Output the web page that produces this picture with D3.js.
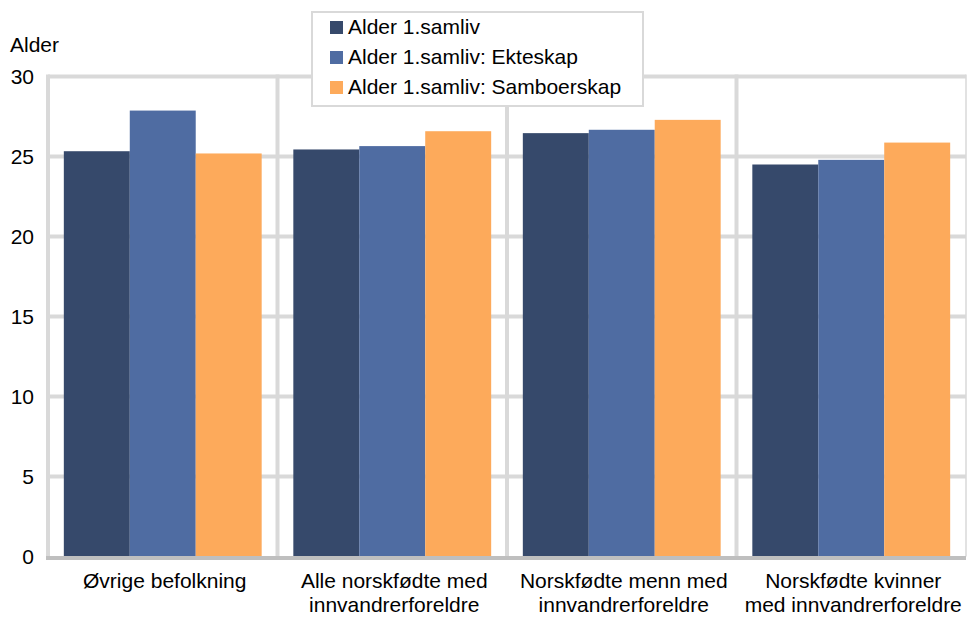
<!DOCTYPE html>
<html>
<head>
<meta charset="utf-8">
<script src="https://cdn.jsdelivr.net/npm/d3@7"></script>
<style>
  body { margin: 0; background: #fff; }
  svg { display: block; }
  text { font-family: "Liberation Sans", Arial, sans-serif; fill: #000; }
</style>
</head>
<body>
<svg id="chart" width="967" height="617"></svg>
<script>
const categories = [
  ["Øvrige befolkning"],
  ["Alle norskfødte med", "innvandrerforeldre"],
  ["Norskfødte menn med", "innvandrerforeldre"],
  ["Norskfødte kvinner", "med innvandrerforeldre"]
];
const seriesNames = ["Alder 1.samliv", "Alder 1.samliv: Ekteskap", "Alder 1.samliv: Samboerskap"];
const alder = [25.33, 25.44, 26.46, 24.5];
const ekteskap = [27.87, 25.65, 26.67, 24.79];
const samboerskap = [25.19, 26.58, 27.29, 25.87];
const yTicks = [0, 5, 10, 15, 20, 25, 30];
const colors = ["#36496b", "#4f6ca2", "#fdaa5b"];

const series = [alder, ekteskap, samboerskap];
const svg = d3.select("#chart");
const mLeft = 48, mRight = 966, mTop = 76.5, mBottom = 556.5;
const fs = "21px";

const x = d3.scaleBand().domain(d3.range(categories.length)).range([mLeft, mRight]).paddingInner(0).paddingOuter(0);
const inner = d3.scaleBand().domain(d3.range(series.length)).range([0, x.bandwidth()]).paddingOuter(0.24).paddingInner(0);
const y = d3.scaleLinear().domain([0, 30]).range([mBottom, mTop]);

// horizontal gridlines
svg.append("g").selectAll("line").data(yTicks.filter(d => d > 0)).join("line")
  .attr("x1", mLeft).attr("x2", mRight)
  .attr("y1", d => y(d)).attr("y2", d => y(d))
  .attr("stroke", "#d9d9d9").attr("stroke-width", 4);

// vertical gridlines
const vx = d3.range(categories.length).map(i => x(i)).concat([mRight]);
svg.append("g").selectAll("line").data(vx).join("line")
  .attr("x1", d => d).attr("x2", d => d)
  .attr("y1", mTop - 2).attr("y2", mBottom)
  .attr("stroke", "#d9d9d9").attr("stroke-width", (d, i) => i === vx.length - 1 ? 1.5 : 4);

// bars
const g = svg.append("g");
series.forEach((vals, s) => {
  g.selectAll(null).data(vals).join("rect")
    .attr("x", (d, i) => x(i) + inner(s))
    .attr("width", inner.bandwidth())
    .attr("y", d => y(d))
    .attr("height", d => y(0) - y(d))
    .attr("fill", colors[s]);
});

// baseline
svg.append("line").attr("x1", mLeft - 2).attr("x2", mRight)
  .attr("y1", y(0) + 1.5).attr("y2", y(0) + 1.5)
  .attr("stroke", "#bfbfbf").attr("stroke-width", 4);

// y axis labels
const yAxis = d3.axisLeft(y).tickValues(yTicks).tickSize(0).tickPadding(0);
const ya = svg.append("g").attr("transform", `translate(34,0)`).call(yAxis);
ya.select(".domain").remove();
ya.selectAll("text").style("font-size", fs).attr("dy", "0.35em")
  .style("font-family", '"Liberation Sans", Arial, sans-serif').attr("fill", "#000");

svg.append("text").attr("x", 10).attr("y", 52).style("font-size", fs).text("Alder");

// category labels
const cl = svg.append("g");
categories.forEach((lines, i) => {
  const cx = x(i) + x.bandwidth() / 2 + 2;
  const t = cl.append("text").attr("text-anchor", "middle")
    .attr("x", cx).attr("y", 588).style("font-size", fs);
  lines.forEach((ln, j) => {
    t.append("tspan").attr("x", cx).attr("dy", j === 0 ? 0 : 24).text(ln);
  });
});

// legend
const lg = svg.append("g");
lg.append("rect").attr("x", 312).attr("y", 12).attr("width", 331).attr("height", 94)
  .attr("fill", "#fff").attr("stroke", "#d9d9d9").attr("stroke-width", 2);
seriesNames.forEach((n, i) => {
  const cy = 27 + i * 30;
  lg.append("rect").attr("x", 330).attr("y", cy - 6).attr("width", 13).attr("height", 13).attr("fill", colors[i]);
  lg.append("text").attr("x", 348).attr("y", cy).attr("dy", "0.35em").style("font-size", fs).text(n);
});
</script>
</body>
</html>
